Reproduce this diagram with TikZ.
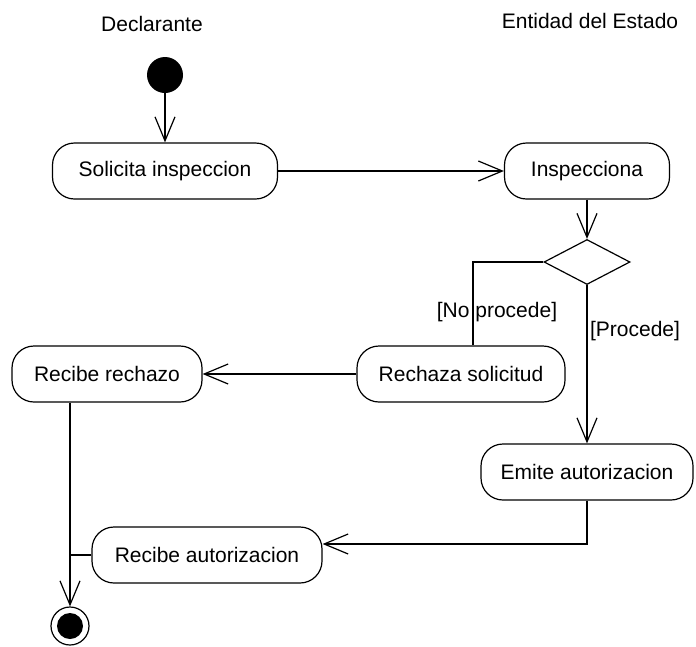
\documentclass[tikz,border=0pt]{standalone}
\usepackage{fontspec}
\setmainfont{Liberation Sans}
\usetikzlibrary{arrows.meta,shapes.geometric}
\begin{document}
\begin{tikzpicture}[x=1pt,y=-1pt,
    font=\fontsize{21pt}{25pt}\selectfont,
    act/.style={draw, rectangle, rounded corners=22pt, minimum height=56pt,
      inner sep=0pt, line width=1.2pt},
    decision/.style={draw, diamond, aspect=1.9, minimum width=86pt,
      minimum height=45pt, inner sep=0pt, line width=1.2pt},
    startnode/.style={circle, fill=black, minimum size=36pt, inner sep=0pt},
    endnode/.style={circle, draw, line width=1.2pt, minimum size=38pt, inner sep=0pt,
      path picture={\fill[black] (path picture bounding box.center) circle (13pt);}},
    flow/.style={line width=1.2pt,
      -{Straight Barb[length=24pt,width=20pt,line width=1.2pt]}}]
  \useasboundingbox (0,0) rectangle (696,646);
  \path
    (152,24) node (lblDecl) {Declarante}
    (590,21) node (lblEnt) {Entidad del Estado}
    (165,75) node[startnode] (ini) {}
    (165,171) node[act, minimum width=225pt] (sol) {Solicita inspeccion}
    (587,171) node[act, minimum width=165pt] (insp) {Inspecciona}
    (587,262) node[decision] (dec) {}
    (461,374) node[act, minimum width=208pt] (rech) {Rechaza solicitud}
    (107,374) node[act, minimum width=190pt] (recRech) {Recibe rechazo}
    (587,472) node[act, minimum width=212pt] (emite) {Emite autorizacion}
    (207,555) node[act, minimum width=230pt] (recAut) {Recibe autorizacion}
    (70,626) node[endnode] (fin) {}
    (497,312) node (lblNo) {[No procede]}
    (635,331) node (lblSi) {[Procede]};
  \begin{scope}[flow]
    \draw (ini) -- (sol);
    \draw (sol) -- (insp);
    \draw (insp) -- (dec);
    \draw[-] (dec.west) -| ([xshift=12pt]rech.north);
    \draw (dec) -- (emite);
    \draw (rech) -- (recRech);
    \draw (emite.south) |- ([yshift=11pt]recAut.east);
    \draw (fin |- recRech.south) -- (fin);
    \draw[-] (recAut.west) -- (recAut.west -| fin);
  \end{scope}
\end{tikzpicture}
\end{document}
